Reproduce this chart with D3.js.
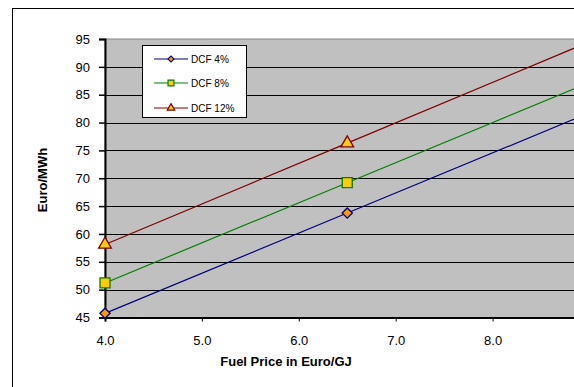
<!DOCTYPE html>
<html><head><meta charset="utf-8">
<script src="https://cdn.jsdelivr.net/npm/d3@7"></script>
<style>body{margin:0;background:#fff;overflow:hidden}svg{display:block}text{font-family:"Liberation Sans",Arial,sans-serif}</style>
</head><body>
<script>
const fuelPrice = [4.0, 6.5, 9.0];
const dcf4 = [45.75, 63.75, 81.75];
const dcf8 = [51.2, 69.2, 87.2];
const dcf12 = [58.1, 76.3, 94.5];
const seriesNames = ["DCF 4%", "DCF 8%", "DCF 12%"];
const xTicks = [4, 5, 6, 7, 8];
const yTicks = [45, 50, 55, 60, 65, 70, 75, 80, 85, 90, 95];

const W = 574, H = 387;
const svg = d3.select("body").append("svg").attr("width", W).attr("height", H);

svg.append("rect").attr("x", 12.5).attr("y", 8.5).attr("width", 700).attr("height", 500)
  .attr("fill", "#fff").attr("stroke", "#000").attr("stroke-width", 1);

const x = d3.scaleLinear().domain([4, 9]).range([105, 589.5]);
const y = d3.scaleLinear().domain([45, 95]).range([317.5, 39]);

svg.append("rect").attr("x", x(4)).attr("y", y(95)).attr("width", x(9) - x(4)).attr("height", y(45) - y(95))
  .attr("fill", "#c0c0c0").attr("stroke", "#808080").attr("stroke-width", 1);

// gridlines
svg.append("g").selectAll("line").data(yTicks.filter(v => v > 45 && v < 95)).join("line")
  .attr("x1", x(4)).attr("x2", x(9)).attr("y1", d => Math.round(y(d)) + 0.5).attr("y2", d => Math.round(y(d)) + 0.5)
  .attr("stroke", "#000").attr("stroke-width", 1);

// axes
const yAxis = d3.axisLeft(y).tickValues(yTicks).tickSize(6).tickPadding(9).tickFormat(d3.format("d"));
const gy = svg.append("g").attr("transform", `translate(${x(4)},0)`).call(yAxis);
gy.select(".domain").attr("stroke-width", 2);
gy.selectAll(".tick line").attr("stroke-width", 1.5);
gy.selectAll("text").attr("font-size", 13).attr("fill", "#000");

const xAxis = d3.axisBottom(x).tickValues(xTicks).tickSize(4).tickPadding(14).tickFormat(d3.format(".1f"));
const gx = svg.append("g").attr("transform", `translate(0,${y(45)})`).call(xAxis);
gx.select(".domain").attr("stroke-width", 2);
gx.selectAll("text").attr("font-size", 13).attr("fill", "#000");

// series
const series = [
  {name: seriesNames[0], vals: dcf4, color: "#000080", fill: "#ff9900", shape: d3.symbolSquare, size: 52, rot: 45},
  {name: seriesNames[1], vals: dcf8, color: "#008000", fill: "#ffcc00", shape: d3.symbolSquare, size: 100, rot: 0},
  {name: seriesNames[2], vals: dcf12, color: "#800000", fill: "#ffcc00", shape: d3.symbolTriangle, size: 70, rot: 0}
];
const line = d3.line().x((d, i) => x(fuelPrice[i])).y(d => y(d));
series.forEach(s => {
  svg.append("path").datum(s.vals).attr("d", line).attr("fill", "none").attr("stroke", s.color).attr("stroke-width", 1.2);
  svg.append("g").selectAll("path").data(s.vals).join("path")
    .attr("transform", (d, i) => `translate(${x(fuelPrice[i])},${y(d)}) rotate(${s.rot})`)
    .attr("d", d3.symbol().type(s.shape).size(s.size))
    .attr("fill", s.fill).attr("stroke", s.color).attr("stroke-width", 1.3);
});

// legend
const lg = svg.append("g");
lg.append("rect").attr("x", 142.5).attr("y", 45.5).attr("width", 104).attr("height", 72)
  .attr("fill", "#fff").attr("stroke", "#000").attr("stroke-width", 1);
const ly = [59, 83, 108];
series.forEach((s, i) => {
  lg.append("line").attr("x1", 154).attr("x2", 188).attr("y1", ly[i]).attr("y2", ly[i]).attr("stroke", s.color).attr("stroke-width", 1.2);
  lg.append("path").attr("transform", `translate(171,${ly[i]}) rotate(${s.rot})`).attr("d", d3.symbol().type(s.shape).size(s.size * 0.35))
    .attr("fill", s.fill).attr("stroke", s.color).attr("stroke-width", 1.2);
  lg.append("text").attr("x", 191).attr("y", ly[i] + 3.5).attr("font-size", 10).text(s.name);
});

// titles
svg.append("text").attr("x", 286).attr("y", 366).attr("text-anchor", "middle").attr("font-size", 13).attr("font-weight", "bold").text("Fuel Price in Euro/GJ");
svg.append("text").attr("transform", "translate(47,180) rotate(-90)").attr("text-anchor", "middle").attr("font-size", 13).attr("font-weight", "bold").text("Euro/MWh");
</script>
</body></html>
